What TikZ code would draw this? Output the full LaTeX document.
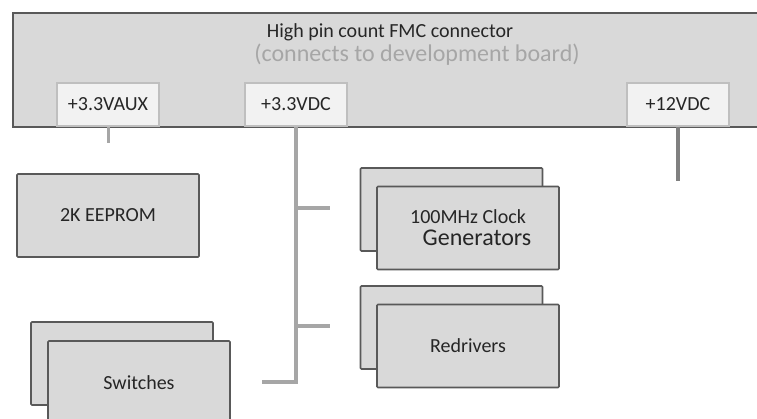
\documentclass[tikz,border=0pt]{standalone}
\usepackage{fontspec}
\setmainfont{Carlito}
\usepackage{tikz}

\begin{document}
\begin{tikzpicture}[x=1pt,y=-1pt,
        block/.style={draw=black!65,line width=1.6pt,fill=black!15,rounded corners=1pt,
            minimum width=182pt,minimum height=83pt,inner sep=0pt,
            font=\fontsize{20}{24}\selectfont,text=black!85,align=center},
        pin/.style={draw=black!25,line width=1.2pt,fill=black!5,
            minimum width=102pt,minimum height=43pt,inner sep=0pt,
            font=\fontsize{20}{24}\selectfont,text=black!85},
        rail/.style={draw=black!35,line width=3.6pt}]
    \useasboundingbox (0,0) rectangle (757,419);
    % FMC connector
    \node[draw=black!65,line width=1.6pt,fill=black!15,minimum width=760pt,minimum height=114pt,
        anchor=north west,inner sep=0pt] (fmc) at (12,12) {};
    \node[font=\fontsize{20}{24}\selectfont,text=black!85] (title) at (390,32) {High pin count FMC connector};
    \node[font=\fontsize{24}{28}\selectfont,text=black!35] (sub) at (417,55) {(connects to development board)};
    \node[pin] (vaux) at (108,104.5) {+3.3VAUX};
    \node[pin] (vdc) at (296,104.5) {+3.3VDC};
    \node[pin] (vtwelve) at (678,104.5) {+12VDC};

    % devices
    \node[block] (eeprom) at (108,215.5) {2K EEPROM};
    \node[block] (clkback) at (451.5,209.5) {};
    \node[block] (clk) at (468,228) {100MHz Clock\\[-2pt]\hspace*{18pt}{\fontsize{24}{26}\selectfont Generators}};
    \node[block] (redback) at (451.5,327.5) {};
    \node[block] (red) at (468,346) {Redrivers};
    \node[block] (swback) at (122,363.5) {};
    \node[block] (sw) at (139,382.5) {Switches};

    % power rails
    \coordinate (auxend) at (108,143);
    \coordinate (twelveend) at (678,181);
    \coordinate (busend) at (296,382);
    \coordinate (swend) at (262,382);
    \coordinate (clktap) at (296,208);
    \coordinate (redtap) at (296,326);
    \coordinate (clkend) at (330,208);
    \coordinate (redend) at (330,326);
    \draw[rail,line width=3pt] (vaux.south) -- (auxend);
    \draw[rail,draw=black!50] (vtwelve.south) -- (twelveend);
    \draw[rail] (vdc.south) -- (busend) -- (swend);
    \draw[rail] (clktap) -- (clkend);
    \draw[rail] (redtap) -- (redend);
\end{tikzpicture}
\end{document}
